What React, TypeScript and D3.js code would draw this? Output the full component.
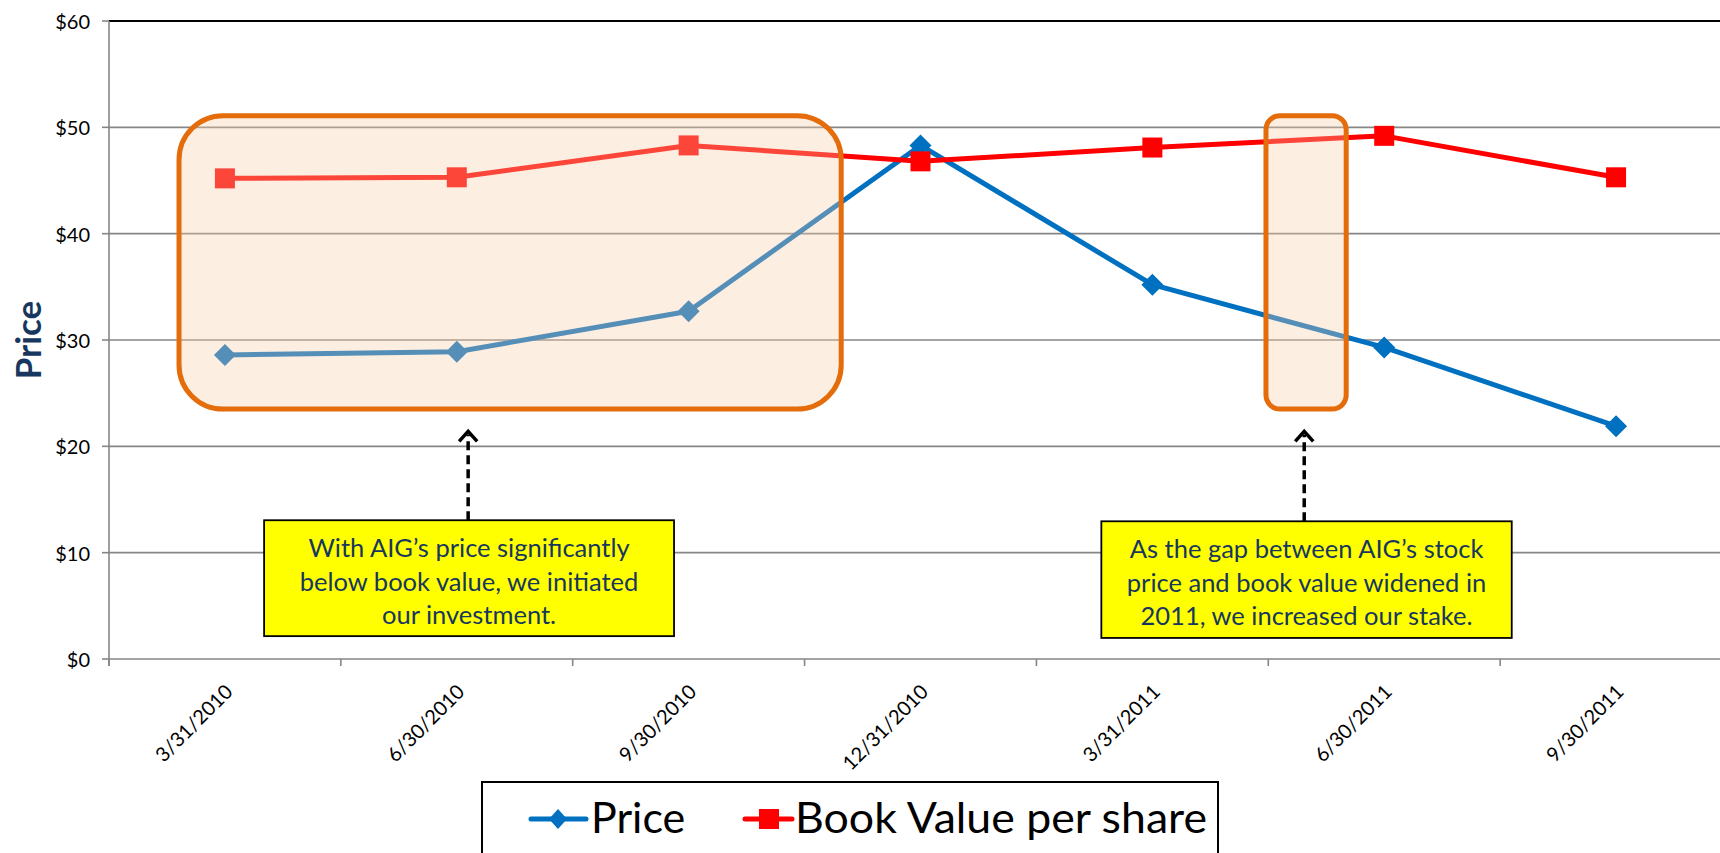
import React, { useEffect } from "react";
import * as d3 from "d3";

const categories = ["3/31/2010", "6/30/2010", "9/30/2010", "12/31/2010", "3/31/2011", "6/30/2011", "9/30/2011"];
const priceValues = [28.6, 28.9, 32.7, 48.3, 35.2, 29.3, 21.9];
const bookValues = [45.2, 45.3, 48.3, 46.8, 48.1, 49.2, 45.3];
const yTicks = [0, 10, 20, 30, 40, 50, 60];
const seriesNames = ["Price", "Book Value per share"];
const note1Lines = ["With AIG\u2019s price significantly", "below book value, we initiated", "our investment."];
const note2Lines = ["As the gap between AIG\u2019s stock", "price and book value widened in", "2011, we increased our stake."];

const W = 1720, H = 853;
const FONT = "Lato, 'Open Sans', sans-serif";
const BLUE = "#0070C0", RED = "#FF0000", NAVY = "#17375E";

export default function App() {
  useEffect(() => { document.body.style.margin = "0"; }, []);

  const x = d3.scaleBand<string>().domain(categories).range([109, 1732]);
  const bw = x.bandwidth();
  const cx = (c: string) => (x(c) as number) + bw / 2;
  const xi = (i: number) => 109 + (i + 0.5) * bw; // fractional category index
  const y = d3.scaleLinear().domain([0, 60]).range([659, 21]);

  const line = d3.line<number>().x((_, i) => cx(categories[i])).y((v) => y(v));

  const diamond = (px: number, py: number, r: number) => `M${px},${py - r}L${px + r},${py}L${px},${py + r}L${px - r},${py}Z`;

  const hl = [
    { x0: -0.198, x1: 2.658, y0: 51.1, y1: 23.5, r: 44 },
    { x0: 4.49, x1: 4.836, y0: 51.1, y1: 23.5, r: 14 },
  ];
  const notes = [
    { x0: 0.169, x1: 1.937, y0: 13.05, y1: 2.15, ax: 1.049, lines: note1Lines },
    { x0: 3.78, x1: 5.55, y0: 12.95, y1: 1.98, ax: 4.655, lines: note2Lines },
  ];
  const arrowTip = 21.4;

  return (
    <svg width={W} height={H} style={{ display: "block", background: "#fff" }} fontFamily={FONT}>
      {/* gridlines */}
      {yTicks.map((t) => (
        <line key={t} x1={109} x2={W} y1={y(t)} y2={y(t)} stroke={t === 60 ? "#000" : "#868686"} strokeWidth={t === 60 ? 2 : 1.6} />
      ))}
      {/* y axis */}
      <line x1={109} x2={109} y1={y(60)} y2={y(0) + 7} stroke="#868686" strokeWidth={1.6} />
      {yTicks.map((t) => (
        <g key={"yt" + t}>
          <line x1={102} x2={109} y1={y(t)} y2={y(t)} stroke="#868686" strokeWidth={1.6} />
          <text x={90} y={y(t)} textAnchor="end" dominantBaseline="central" fontSize={20} fill="#000">{"$" + t}</text>
        </g>
      ))}
      {/* x ticks */}
      {d3.range(categories.length + 1).map((k) => (
        <line key={"xt" + k} x1={109 + k * bw} x2={109 + k * bw} y1={y(0)} y2={y(0) + 7} stroke="#868686" strokeWidth={1.6} />
      ))}
      {categories.map((c) => (
        <text key={"xl" + c} transform={`translate(${cx(c) + 9},${y(0) + 34}) rotate(-45)`} textAnchor="end" fontSize={20} fill="#000">{c}</text>
      ))}
      {/* axis title */}
      <text transform={`translate(27,${(y(0) + y(60)) / 2}) rotate(-90)`} textAnchor="middle" dominantBaseline="central" fontSize={35} fontWeight="bold" fill={NAVY}>Price</text>

      {/* series */}
      <path d={line(priceValues) as string} fill="none" stroke={BLUE} strokeWidth={5} strokeLinejoin="round" />
      <path d={line(bookValues) as string} fill="none" stroke={RED} strokeWidth={5} strokeLinejoin="round" />
      {priceValues.map((v, i) => (
        <path key={"pm" + i} d={diamond(cx(categories[i]), y(v), 11)} fill={BLUE} />
      ))}
      {bookValues.map((v, i) => (
        <rect key={"bm" + i} x={cx(categories[i]) - 10} y={y(v) - 10} width={20} height={20} fill={RED} />
      ))}

      {/* highlight rounded rects */}
      {hl.map((h, i) => (
        <rect key={"hl" + i} x={xi(h.x0)} y={y(h.y0)} width={xi(h.x1) - xi(h.x0)} height={y(h.y1) - y(h.y0)} rx={h.r} ry={h.r}
          fill="rgba(250,205,170,0.34)" stroke="#E46C0A" strokeWidth={5} />
      ))}

      {/* arrows and notes */}
      {notes.map((n, i) => {
        const ax = xi(n.ax);
        const tipY = y(arrowTip);
        return (
          <g key={"n" + i}>
            <line x1={ax} x2={ax} y1={y(n.y0)} y2={tipY + 3} stroke="#000" strokeWidth={3.5} strokeDasharray="9,5" />
            <path d={`M${ax - 9},${tipY + 10}L${ax},${tipY}L${ax + 9},${tipY + 10}`} fill="none" stroke="#000" strokeWidth={3.5} strokeLinejoin="miter" />
            <rect x={xi(n.x0)} y={y(n.y0)} width={xi(n.x1) - xi(n.x0)} height={y(n.y1) - y(n.y0)} fill="#FFFF00" stroke="#000" strokeWidth={1.8} />
            {n.lines.map((t, j) => (
              <text key={j} x={(xi(n.x0) + xi(n.x1)) / 2} y={y(n.y0) + 37 + j * 33.5} textAnchor="middle" fontSize={25.5} fill={NAVY}>{t}</text>
            ))}
          </g>
        );
      })}

      {/* legend */}
      <rect x={482} y={782} width={736} height={90} fill="#fff" stroke="#000" strokeWidth={2} />
      <line x1={531} x2={586} y1={819} y2={819} stroke={BLUE} strokeWidth={5} strokeLinecap="round" />
      <path d={`M558,809L567,819L558,829L549,819Z`} fill={BLUE} />
      <text x={591} y={833} fontSize={43} fill="#000">{seriesNames[0]}</text>
      <line x1={745} x2={792} y1={819} y2={819} stroke={RED} strokeWidth={5} strokeLinecap="round" />
      <rect x={759} y={809} width={20} height={20} fill={RED} />
      <text x={795} y={833} fontSize={43} fill="#000" textLength={412} lengthAdjust="spacingAndGlyphs">{seriesNames[1]}</text>
    </svg>
  );
}
